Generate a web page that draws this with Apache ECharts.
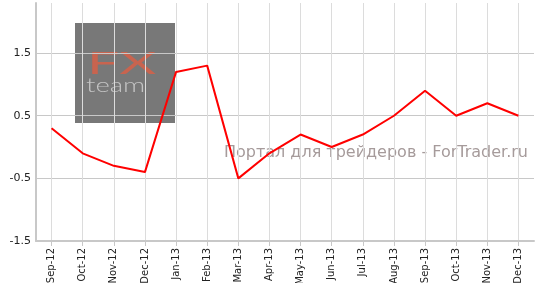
<!DOCTYPE html>
<html><head><meta charset="utf-8">
<script src="https://cdn.jsdelivr.net/npm/echarts@6/dist/echarts.min.js"></script>
<style>html,body{margin:0;padding:0;background:#fff}#c{width:536px;height:283px}</style>
</head><body><div id="c"></div>
<script>
const categories = ['Sep-12','Oct-12','Nov-12','Dec-12','Jan-13','Feb-13','Mar-13','Apr-13','May-13','Jun-13','Jul-13','Aug-13','Sep-13','Oct-13','Nov-13','Dec-13'];
const values = [0.3,-0.1,-0.3,-0.4,1.2,1.3,-0.5,-0.1,0.2,0.0,0.2,0.5,0.9,0.5,0.7,0.5];
const yLabels = ['-1.5','-0.5','0.5','1.5'];

const chart = echarts.init(document.getElementById('c'), null, {renderer:'canvas'});
chart.setOption({
  animation:false,
  grid:{left:36,right:2,top:3,bottom:42,containLabel:false,outerBoundsMode:'none'},
  graphic:{z:-5,elements:[
    {type:'rect',shape:{x:75,y:23,width:100,height:100},style:{fill:'#787878'}},
    {type:'text',x:87,y:64,scaleX:1.9,style:{text:'FX',x:0,y:0,font:'30px Lato',fill:'#c8644f',verticalAlign:'middle'}},
    {type:'text',x:86,y:86,scaleX:1.45,style:{text:'team',x:0,y:0,font:'300 19px Lato',fill:'#c4c4c4',verticalAlign:'middle'}},
    {type:'text',style:{text:'Портал для трейдеров - ForTrader.ru',x:528,y:153,align:'right',verticalAlign:'middle',font:'16px "DejaVu Sans"',fill:'#a69b9b'}}
  ]},
  xAxis:{type:'category',data:categories,boundaryGap:true,z:2,
    axisLine:{show:true,onZero:false,lineStyle:{color:'#c8c8c8',width:2}},
    axisTick:{show:true,alignWithLabel:true,length:5,lineStyle:{color:'#c8c8c8'}},
    axisLabel:{rotate:90,fontSize:10,color:'#222',fontFamily:'DejaVu Sans',margin:7,interval:0},
    splitLine:{show:true,alignWithLabel:true,lineStyle:{color:'#dcdcdc',width:1}}
  },
  yAxis:{type:'value',min:-1.5,max:2.3,interval:0.5,z:2,
    axisLine:{show:true,lineStyle:{color:'#c8c8c8',width:2}},
    axisTick:{show:false},
    axisLabel:{fontSize:11,color:'#222',fontFamily:'DejaVu Sans',margin:5,
      formatter:function(v){const s=(Math.round(v*10)/10).toFixed(1);return yLabels.indexOf(s)>=0?s:'';}},
    splitLine:{show:true,lineStyle:{color:['transparent','transparent','#c8c8c8','transparent','#c8c8c8','transparent','#c8c8c8','transparent','transparent'],width:1}}
  },
  series:[{type:'line',data:values,symbol:'none',lineStyle:{color:'#ff0000',width:2},z:5}]
});
</script></body></html>
